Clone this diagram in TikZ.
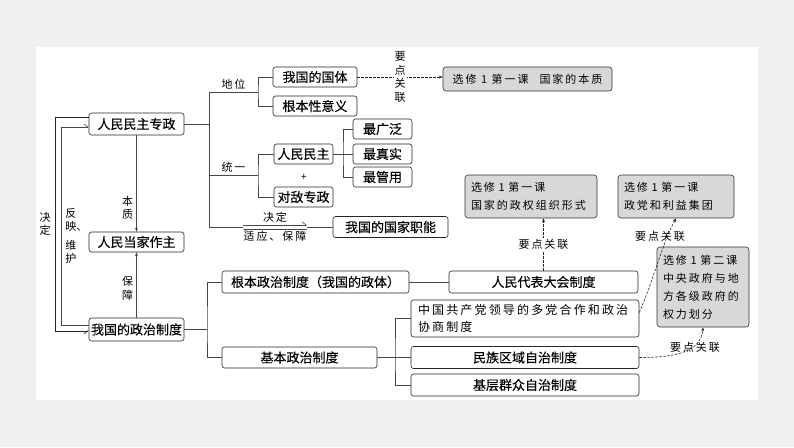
\documentclass[tikz,border=0pt]{standalone}
\usepackage{fontspec}
\setmainfont{Noto Sans CJK SC}
\newfontfamily\boxfont[FakeBold=0.12]{Noto Sans CJK SC}
\newfontfamily\spaced[LetterSpace=18]{Noto Sans CJK SC}
\usetikzlibrary{arrows.meta, calc}
\definecolor{pageBg}{RGB}{240,240,242}
\definecolor{lineBase}{RGB}{70,70,70}
\definecolor{linkFill}{RGB}{216,216,216}
\tikzset{
    mainbox/.style={
        draw=black!85, fill=white, rounded corners=2.5pt, line width=0.6pt,
        inner sep=0pt, minimum height=21pt,
        font=\boxfont\fontsize{13}{15}\selectfont
    },
    spacedbox/.style={
        mainbox, align=left, inner xsep=7pt,
        font=\spaced\fontsize{12}{17}\selectfont
    },
    linkbox/.style={
        draw=black!80, fill=linkFill, rounded corners=3pt, line width=0.6pt,
        inner xsep=6pt, inner ysep=0pt, align=left,
        font=\spaced\fontsize{11}{18}\selectfont
    },
    tag/.style={font=\spaced\fontsize{11}{13.5}\selectfont, inner sep=1pt},
    vtag/.style={tag, align=center},
    bus/.style={draw=lineBase, line width=0.7pt},
    flow/.style={-{Stealth[length=4pt, width=3pt]}, draw=lineBase, line width=0.6pt},
    link/.style={-{Stealth[length=4pt, width=3pt]}, draw=black!85, line width=0.6pt,
        dash pattern=on 2.5pt off 1.5pt},
    barb/.style={-{Straight Barb[left, length=4pt, width=6pt]}, draw=lineBase, line width=0.6pt},
    barbdown/.style={-{Straight Barb[right, length=4pt, width=6pt]}, draw=black!85, line width=0.6pt}
}
\begin{document}
\begin{tikzpicture}[x=1pt, y=-1pt]
  \useasboundingbox (0,0) rectangle (794,447);
  \fill[pageBg] (0,0) rectangle (794,447);
  \fill[white] (36,47) rectangle (758,400);

  % left column
  \node[mainbox, minimum width=95pt, minimum height=22pt] (zhuanzheng) at (136.5,124) {人民民主专政};
  \node[mainbox, minimum width=95pt, minimum height=20pt] (dangjia) at (136.5,242) {人民当家作主};
  \node[mainbox, minimum width=95pt, minimum height=23pt] (zhidu) at (136.5,329.5) {我国的政治制度};

  % upper branches
  \node[mainbox, minimum width=84pt, minimum height=20pt] (guoti) at (315,77) {我国的国体};
  \node[mainbox, minimum width=84pt, minimum height=20pt] (yiyi) at (315,106) {根本性意义};
  \node[mainbox, minimum width=59pt, minimum height=20pt] (minzhu) at (303.5,154) {人民民主};
  \node[mainbox, minimum width=59pt, minimum height=20pt] (diren) at (303.5,197) {对敌专政};
  \node (plus) at (304,177) {+};
  \node[mainbox, minimum width=59pt, minimum height=20pt] (guang) at (382.5,129) {最广泛};
  \node[mainbox, minimum width=59pt, minimum height=20pt] (zhen) at (382.5,154) {最真实};
  \node[mainbox, minimum width=59pt, minimum height=20pt] (guan) at (382.5,177) {最管用};
  \node[mainbox, minimum width=115pt, minimum height=21pt] (zhineng) at (390.5,227) {我国的国家职能};
  \node[linkbox, minimum width=169pt, minimum height=24pt] (benzhi) at (527.5,79) {选修 1 第一课\quad 国家的本质};

  % lower branches
  \node[mainbox, minimum width=187pt, minimum height=22pt] (genben) at (315.5,282) {根本政治制度（我国的政体）};
  \node[mainbox, minimum width=155pt, minimum height=21pt] (jiben) at (299.5,357.5) {基本政治制度};
  \node[mainbox, minimum width=189pt, minimum height=22pt] (renda) at (543.5,282) {人民代表大会制度};
  \node[spacedbox, text width=214pt, minimum height=37pt] (hezuo) at (525,318.5) {中国共产党领导的多党合作和政治\\协商制度};
  \node[mainbox, minimum width=228pt, minimum height=22pt] (minzu) at (525,357.5) {民族区域自治制度};
  \node[mainbox, minimum width=228pt, minimum height=22pt] (jiceng) at (525,385) {基层群众自治制度};

  \node[linkbox, text width=120pt, minimum height=43pt] (zhengquan) at (531,196.5) {选修 1 第一课\\国家的政权组织形式};
  \node[linkbox, text width=104pt, minimum height=43pt] (zhengdang) at (676,196.5) {选修 1 第一课\\政党和利益集团};
  \node[linkbox, text width=80pt, minimum height=80pt] (huafen) at (703,287) {选修 1 第二课\\中央政府与地\\方各级政府的\\权力划分};

  % loop on the left
  \coordinate (o1) at (55,117);
  \coordinate (o2) at (55,331);
  \coordinate (i1) at (61,127);
  \coordinate (i2) at (61,325);
  \draw[barbdown] (zhuanzheng.west |- o1) -- (o1) -- node[vtag, left=3pt] {决\\定} (o2) -- (o2 -| zhidu.west);
  \draw[barb] (zhidu.west |- i2) -- (i2) -- node[vtag, right=3pt, pos=0.45] {反\\映\rlap{、}\\[5pt]维\\护} (i1) -- (i1 -| zhuanzheng.west);
  \draw[flow] (zhuanzheng.south) -- node[vtag, left=2pt, pos=0.75] {本\\质} (dangjia.north);
  \draw[flow] (zhidu.north) -- node[vtag, left=2pt, pos=0.45] {保\\障} (dangjia.south);

  % buses from 人民民主专政
  \coordinate (b1) at (209,124);
  \coordinate (b1top) at (209,92);
  \coordinate (b1bot) at (209,227);
  \coordinate (s1) at (258,92);
  \coordinate (s2) at (258,175);
  \coordinate (s3) at (343,154);
  \coordinate (d1) at (243,227);
  \coordinate (d2) at (307,227);
  \draw[bus] (zhuanzheng.east) -- (b1);
  \draw[bus] (b1top) -- (b1bot);
  \draw[bus] (b1top) -- node[tag, above=1pt] {地位} (s1);
  \draw[bus] (guoti.west) -| (s1) |- (yiyi.west);
  \draw[bus] (s2 -| b1) -- node[tag, above=1pt] {统一} (s2);
  \draw[bus] (minzhu.west) -| (s2) |- (diren.west);
  \draw[bus] (minzhu.east) -- (zhen.west);
  \draw[bus] (guang.west) -| (s3) |- (guan.west);
  \draw[bus] (b1bot) -- (d1);
  \draw[bus] (d2) -- (zhineng.west);
  \draw[barb] ([yshift=2pt]d1) -- node[tag, above=1pt] {决定} ([yshift=2pt]d2);
  \draw[barb] ([yshift=-2pt]d2) -- node[tag, below=1pt] {适应、保障} ([yshift=-2pt]d1);

  % buses from 我国的政治制度
  \coordinate (c1) at (207,329.5);
  \coordinate (c2) at (395,357.5);
  \draw[bus] (zhidu.east) -- (c1);
  \draw[bus] (genben.west) -| (c1) |- (jiben.west);
  \draw[bus] (genben.east) -- (renda.west);
  \draw[bus] (jiben.east) -- (minzu.west);
  \draw[bus] (hezuo.west) -| (c2) |- (jiceng.west);

  % 要点关联
  \draw[link] (guoti.east) -- node[vtag, fill=white] {要\\点\\关\\联} (guoti.east -| benzhi.west);
  \draw[link] (renda.north) -- node[tag, fill=white] {要点关联} (renda.north |- zhengquan.south);
  \draw[link] ([yshift=6pt]hezuo.east) .. controls +(14,-32) and +(-14,26) .. (zhengdang.south);
  \node[tag] (yd2) at (660,236) {要点关联};
  \draw[link] (minzu.east) .. controls +(38,0) and +(-2,24) .. (huafen.south);
  \node[tag] (yd3) at (695,347) {要点关联};
\end{tikzpicture}
\end{document}
